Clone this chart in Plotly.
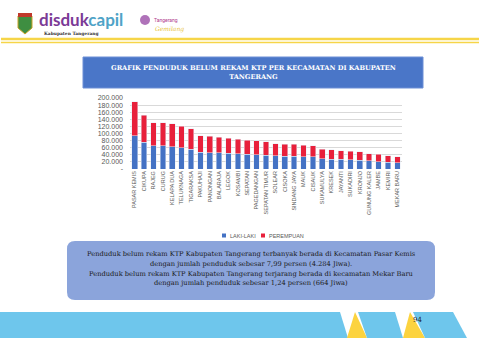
import plotly.graph_objects as go

# ---------------- data ----------------
kecamatan = ["PASAR KEMIS", "CIKUPA", "RAJEG", "CURUG", "KELAPA DUA", "TELUKNAGA",
             "TIGARAKSA", "PAKUHAJI", "PANONGAN", "BALARAJA", "LEGOK", "KOSAMBI",
             "SEPATAN", "PAGEDANGAN", "SEPATAN TIMUR", "SOLEAR", "CISOKA",
             "SINDANG JAYA", "MAUK", "CISAUK", "SUKAMULYA", "KRESEK", "JAYANTI",
             "SUKADIRI", "KRONJO", "GUNUNG KALER", "JAMBE", "KEMIRI", "MEKAR BARU"]
laki_laki = [93000, 76000, 66000, 65000, 63000, 60000, 56000, 47000, 46000, 46000,
             45000, 43000, 42000, 40000, 39000, 37000, 36000, 36000, 35000, 34000,
             29000, 28000, 27000, 26000, 25000, 23000, 21000, 19000, 18000]
perempuan = [96000, 75000, 64000, 65000, 65000, 60000, 57000, 46000, 46000, 44000,
             42000, 41000, 39000, 40000, 38000, 34000, 34000, 34000, 32000, 32000,
             26000, 26000, 25000, 24000, 24000, 20000, 20000, 18500, 16600]
y_tickvals = [0, 20000, 40000, 60000, 80000, 100000, 120000, 140000, 160000, 180000, 200000]
y_ticktext = ["-", "20.000", "40.000", "60.000", "80.000", "100.000", "120.000",
              "140.000", "160.000", "180.000", "200.000"]
series_names = ["LAKI-LAKI", "PEREMPUAN"]
series_colors = ["#4472C4", "#E8203B"]

title_text = "GRAFIK PENDUDUK BELUM REKAM KTP PER KECAMATAN DI KABUPATEN<br>TANGERANG"
note_lines = [
    "Penduduk belum rekam KTP Kabupaten Tangerang terbanyak berada di Kecamatan Pasar Kemis",
    "dengan jumlah penduduk sebesar 7,99 persen (4.284 Jiwa).",
    "Penduduk belum rekam KTP Kabupaten Tangerang terjarang berada di kecamatan Mekar Baru",
    "dengan jumlah penduduk sebesar 1,24 persen (664 Jiwa)",
]

# ---------------- geometry helpers (pixel -> paper) ----------------
W, H = 480, 338
PL, PR, PT, PB = 130, 402, 98, 169


def X(px):
    return (px - PL) / (PR - PL)


def Y(py):
    return (PB - py) / (PB - PT)


def poly(points):
    return "M " + " L ".join(f"{X(a):.5f},{Y(b):.5f}" for a, b in points) + " Z"


def rrect(x0, y0, x1, y1, r):
    p = [f"M {X(x0 + r):.5f},{Y(y0):.5f}",
         f"L {X(x1 - r):.5f},{Y(y0):.5f}",
         f"Q {X(x1):.5f},{Y(y0):.5f} {X(x1):.5f},{Y(y0 + r):.5f}",
         f"L {X(x1):.5f},{Y(y1 - r):.5f}",
         f"Q {X(x1):.5f},{Y(y1):.5f} {X(x1 - r):.5f},{Y(y1):.5f}",
         f"L {X(x0 + r):.5f},{Y(y1):.5f}",
         f"Q {X(x0):.5f},{Y(y1):.5f} {X(x0):.5f},{Y(y1 - r):.5f}",
         f"L {X(x0):.5f},{Y(y0 + r):.5f}",
         f"Q {X(x0):.5f},{Y(y0):.5f} {X(x0 + r):.5f},{Y(y0):.5f} Z"]
    return " ".join(p)


def ppath(points, color):
    return dict(type="path", xref="paper", yref="paper", path=poly(points),
                fillcolor=color, line=dict(width=0))


fig = go.Figure()
fig.add_trace(go.Bar(x=kecamatan, y=laki_laki, name=series_names[0], marker_color=series_colors[0]))
fig.add_trace(go.Bar(x=kecamatan, y=perempuan, name=series_names[1], marker_color=series_colors[1]))

shapes = []
# yellow header lines
shapes.append(dict(type="line", xref="paper", yref="paper", x0=X(1), x1=X(479), y0=Y(39), y1=Y(39),
                   line=dict(color="#F6D548", width=2.6), layer="above"))
shapes.append(dict(type="line", xref="paper", yref="paper", x0=X(1), x1=X(479), y0=Y(42.4), y1=Y(42.4),
                   line=dict(color="#F6D548", width=1.5), layer="above"))
# crest (simple shield)
shapes.append(dict(type="path", xref="paper", yref="paper",
                   path=poly([(18, 16), (32, 16), (32, 28), (25, 34), (18, 28)]),
                   fillcolor="#3E8E41", line=dict(color="#C9A227", width=1)))
shapes.append(ppath([(18, 13), (32, 13), (32, 17), (18, 17)], "#C0392B"))
# Tangerang Gemilang icon
shapes.append(dict(type="circle", xref="paper", yref="paper", x0=X(140), x1=X(150), y0=Y(15), y1=Y(25),
                   fillcolor="#9B4FA8", line=dict(width=0), opacity=0.8))
# title box
shapes.append(dict(type="rect", xref="paper", yref="paper", x0=X(83), x1=X(423), y0=Y(57), y1=Y(88),
                   fillcolor="#4A76C8", line=dict(color="#6C8FD6", width=1), layer="below"))
# custom legend markers
shapes.append(ppath([(222, 233.5), (226, 233.5), (226, 237.5), (222, 237.5)], series_colors[0]))
shapes.append(ppath([(261, 233.5), (265, 233.5), (265, 237.5), (261, 237.5)], series_colors[1]))
# note box
shapes.append(dict(type="path", xref="paper", yref="paper", path=rrect(67, 241, 435, 300, 8),
                   fillcolor="#8BA4DB", line=dict(width=0), layer="below"))
# bottom decorations
shapes.append(ppath([(0, 312), (340, 312), (348, 338), (0, 338)], "#6EC6EC"))
shapes.append(ppath([(355, 312), (347, 338), (367, 338)], "#FCD33F"))
shapes.append(ppath([(358, 312), (395, 312), (403, 338), (367, 338)], "#6EC6EC"))
shapes.append(ppath([(410, 312), (403, 338), (425, 338)], "#FCD33F"))
shapes.append(ppath([(413, 312), (453, 312), (467, 338), (425, 338)], "#6EC6EC"))

annotations = []
annotations.append(dict(xref="paper", yref="paper", x=X(37), y=Y(19.5), xanchor="left", yanchor="middle",
                        showarrow=False,
                        text="<b><span style='color:#7B3A96'>disduk</span><span style='color:#4FA3C7'>capil</span></b>",
                        font=dict(family="Lato", size=17)))
annotations.append(dict(xref="paper", yref="paper", x=X(42), y=Y(33.2), xanchor="left", yanchor="middle",
                        showarrow=False, text="<b>Kabupaten Tangerang</b>",
                        font=dict(family="DejaVu Serif", size=4.4, color="#333333")))
annotations.append(dict(xref="paper", yref="paper", x=X(152), y=Y(20), xanchor="left", yanchor="middle",
                        showarrow=False, text="Tangerang",
                        font=dict(family="Roboto", size=5, color="#B03A8C")))
annotations.append(dict(xref="paper", yref="paper", x=X(153), y=Y(29), xanchor="left", yanchor="middle",
                        showarrow=False, text="<i>Gemilang</i>",
                        font=dict(family="DejaVu Serif", size=6, color="#E8C33A")))
annotations.append(dict(xref="paper", yref="paper", x=X(253), y=Y(72.5), xanchor="center", yanchor="middle",
                        showarrow=False, text="<b>" + title_text + "</b>",
                        font=dict(family="DejaVu Serif", size=6.6, color="white")))
# custom legend labels
annotations.append(dict(xref="paper", yref="paper", x=X(227.5), y=Y(235.5), xanchor="left", yanchor="middle",
                        showarrow=False, text=series_names[0],
                        font=dict(family="Liberation Sans", size=5.5, color="#595959")))
annotations.append(dict(xref="paper", yref="paper", x=X(266.5), y=Y(235.5), xanchor="left", yanchor="middle",
                        showarrow=False, text=series_names[1],
                        font=dict(family="Liberation Sans", size=5.5, color="#595959")))
note_y = [254, 264, 273.5, 283]
for t, yy in zip(note_lines, note_y):
    annotations.append(dict(xref="paper", yref="paper", x=X(251), y=Y(yy), xanchor="center", yanchor="middle",
                            showarrow=False, text=t,
                            font=dict(family="DejaVu Serif", size=6.7, color="#1a1a1a")))
annotations.append(dict(xref="paper", yref="paper", x=X(417), y=Y(320), xanchor="center", yanchor="middle",
                        showarrow=False, text="94",
                        font=dict(family="DejaVu Serif", size=7, color="#222222")))

fig.update_layout(
    width=W, height=H,
    margin=dict(l=PL, r=W - PR, t=PT, b=H - PB, pad=0),
    paper_bgcolor="white", plot_bgcolor="white",
    barmode="stack", bargap=0.4,
    shapes=shapes, annotations=annotations,
    showlegend=False,
    xaxis=dict(tickangle=-90, tickfont=dict(family="Liberation Sans", size=5.5, color="#595959"),
               showline=False, ticks="", showgrid=False),
    yaxis=dict(range=[0, 200000], tickvals=y_tickvals, ticktext=y_ticktext,
               tickfont=dict(family="Liberation Sans", size=7, color="#595959"),
               showgrid=True, gridcolor="#D9D9D9", gridwidth=1, zeroline=False,
               showline=False, ticks="", ticklen=0, ticklabelstandoff=6),
)

fig.write_html("out.html")
